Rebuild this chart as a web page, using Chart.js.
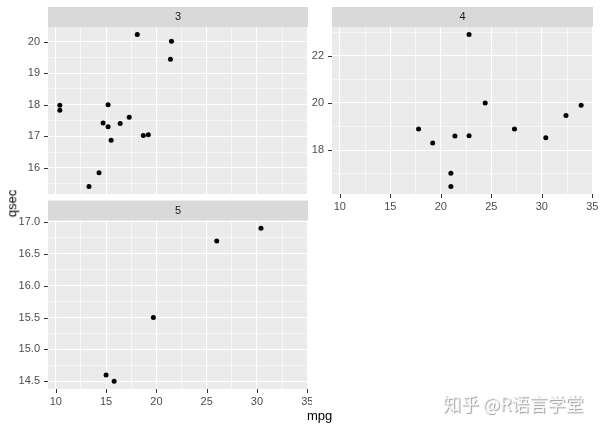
<!DOCTYPE html>
<html>
<head>
<meta charset="utf-8">
<script src="https://cdn.jsdelivr.net/npm/chart.js@4.4.1/dist/chart.umd.min.js"></script>
<style>
  body { margin: 0; background: #fff; width: 600px; height: 428px; overflow: hidden; position: relative; }
  canvas { position: absolute; }
  .lab { position: absolute; font-family: 'Liberation Sans', Arial, sans-serif; color: #000; font-size: 13px; }
  #mark { position: absolute; left: 443px; top: 390px; font-family: 'Noto Sans CJK SC', sans-serif;
          font-size: 18px; color: #f7f7f7; text-shadow: 1px 1px 1px #9a9a9a; white-space: nowrap; }
</style>
</head>
<body>
<canvas id="p3" width="312" height="200" style="left:0;top:0"></canvas>
<canvas id="p4" width="316" height="222" style="left:284px;top:0"></canvas>
<canvas id="p5" width="312" height="233" style="left:0;top:195px"></canvas>
<div class="lab" style="left:307px;top:408px">mpg</div>
<div class="lab" style="left:-2px;top:196px;transform:rotate(-90deg)">qsec</div>
<div id="mark">知乎 @R语言学堂</div>
<script>
// mtcars, split by gear
var gear3Mpg  = [21.4, 18.7, 18.1, 14.3, 16.4, 17.3, 15.2, 10.4, 10.4, 14.7, 21.5, 15.5, 15.2, 13.3, 19.2];
var gear3Qsec = [19.44, 17.02, 20.22, 15.84, 17.40, 17.60, 18.00, 17.98, 17.82, 17.42, 20.01, 16.87, 17.30, 15.41, 17.05];
var gear4Mpg  = [21.0, 21.0, 22.8, 24.4, 22.8, 19.2, 17.8, 32.4, 30.4, 33.9, 27.3, 21.4];
var gear4Qsec = [16.46, 17.02, 18.61, 20.00, 22.90, 18.30, 18.90, 19.47, 18.52, 19.90, 18.90, 18.60];
var gear5Mpg  = [26.0, 30.4, 15.8, 19.7, 15.0];
var gear5Qsec = [16.70, 16.90, 14.50, 15.50, 14.60];

var xTicks = [10, 15, 20, 25, 30, 35];
var y3Ticks = [16, 17, 18, 19, 20];
var y4Ticks = [18, 20, 22];
var y5Ticks = [14.5, 15.0, 15.5, 16.0, 16.5, 17.0];

Chart.defaults.font.family = "'Liberation Sans', Arial, sans-serif";
Chart.defaults.font.size = 11;

function range(arrs) {
    var all = [].concat.apply([], arrs);
    var lo = Math.min.apply(null, all), hi = Math.max.apply(null, all);
    var pad = (hi - lo) * 0.05;
    return [lo - pad, hi + pad];
}
var xRange = range([gear3Mpg, gear4Mpg, gear5Mpg]);

// major + minor (midpoint) ticks
function withMinor(major) {
    var step = major[1] - major[0];
    var out = [];
    for (var i = -1; i < major.length; i++) {
        if (i >= 0) out.push({ value: major[i], major: true });
        var base = i >= 0 ? major[i] : major[0] - step;
        out.push({ value: base + step / 2, major: false });
    }
    return out;
}

var stripPlugin = {
    id: 'strip',
    beforeDraw: function (chart, args, opts) {
        var a = chart.chartArea, ctx = chart.ctx;
        ctx.save();
        ctx.fillStyle = '#EBEBEB';
        ctx.fillRect(a.left, a.top, a.right - a.left, a.bottom - a.top);
        ctx.fillStyle = '#D9D9D9';
        ctx.fillRect(a.left, a.top - 20, a.right - a.left, 20);
        ctx.fillStyle = '#1A1A1A';
        ctx.font = "11px 'Liberation Sans', Arial, sans-serif";
        ctx.textAlign = 'center';
        ctx.textBaseline = 'middle';
        ctx.fillText(opts.label, (a.left + a.right) / 2, a.top - 10);
        ctx.restore();
    },
    // ggplot-style tick marks outside the panel
    afterDraw: function (chart, args, opts) {
        var a = chart.chartArea, ctx = chart.ctx;
        ctx.save();
        ctx.strokeStyle = '#333333';
        ctx.lineWidth = 1;
        ctx.beginPath();
        chart.scales.y.ticks.forEach(function (t) {
            if (!t.major) return;
            var py = Math.round(chart.scales.y.getPixelForValue(t.value)) + 0.5;
            ctx.moveTo(a.left - 4, py); ctx.lineTo(a.left, py);
        });
        if (opts.xTicks) {
            chart.scales.x.ticks.forEach(function (t) {
                if (!t.major) return;
                var px = Math.round(chart.scales.x.getPixelForValue(t.value)) + 0.5;
                ctx.moveTo(px, a.bottom); ctx.lineTo(px, a.bottom + 4);
            });
        }
        ctx.stroke();
        ctx.restore();
    }
};

function axis(major, min, max, showLabels, size, isY, digits) {
    var minor = withMinor(major).filter(function (t) { return t.value >= min && t.value <= max; });
    return {
        type: 'linear',
        min: min,
        max: max,
        border: { display: false },
        afterBuildTicks: function (s) { s.ticks = minor.map(function (t) { return { value: t.value, major: t.major }; }); },
        afterFit: function (s) {
            if (isY) s.width = size; else s.height = size;
            s.paddingLeft = 0; s.paddingRight = 0; s.paddingTop = 0; s.paddingBottom = 0;
        },
        grid: {
            color: '#FFFFFF',
            lineWidth: function (c) { return c.tick && c.tick.major ? 1.1 : 0.55; },
            drawTicks: showLabels,
            tickLength: 4,
            tickColor: 'rgba(0,0,0,0)'
        },
        ticks: {
            display: showLabels,
            autoSkip: false,
            maxRotation: 0,
            padding: isY ? 4 : 2,
            color: '#4D4D4D',
            callback: function (v, i, ticks) {
                return ticks[i].major ? v.toFixed(digits) : '';
            }
        }
    };
}

function makePanel(id, mpg, qsec, label, yMajor, digits, showX, xHeight, pad) {
    var yr = range([qsec]);
    var pts = mpg.map(function (m, i) { return { x: m, y: qsec[i] }; });
    new Chart(document.getElementById(id), {
        type: 'scatter',
        data: { datasets: [{ data: pts, backgroundColor: '#000', borderColor: '#000', pointRadius: 2.5, pointHoverRadius: 2.5, borderWidth: 0 }] },
        options: {
            responsive: false,
            animation: false,
            layout: { padding: pad },
            plugins: { legend: { display: false }, tooltip: { enabled: false }, strip: { label: label, xTicks: showX } },
            scales: {
                x: axis(xTicks, xRange[0], xRange[1], showX, xHeight, false, 0),
                y: axis(yMajor, yr[0], yr[1], true, 48, true, digits)
            }
        },
        plugins: [stripPlugin]
    });
}

makePanel('p3', gear3Mpg, gear3Qsec, '3', y3Ticks, 0, false, 0, { left: 0, right: 4, top: 27, bottom: 6 });
makePanel('p4', gear4Mpg, gear4Qsec, '4', y4Ticks, 0, true, 28, { left: 0, right: 7, top: 27, bottom: 0 });
makePanel('p5', gear5Mpg, gear5Qsec, '5', y5Ticks, 1, true, 28, { left: 0, right: 4, top: 25.5, bottom: 11 });
</script>
</body>
</html>
